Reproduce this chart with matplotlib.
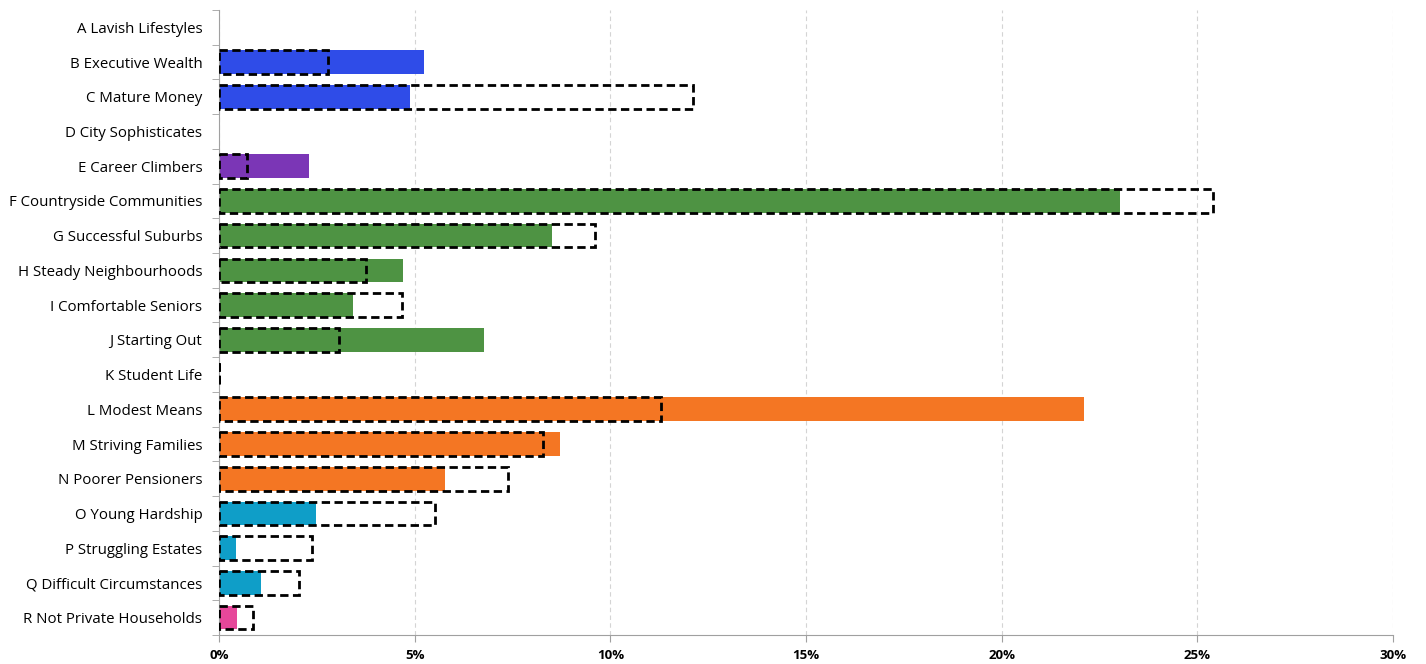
import matplotlib.pyplot as plt
from matplotlib.ticker import FuncFormatter

# segment names
segments = ['A Lavish Lifestyles', 'B Executive Wealth', 'C Mature Money', 'D City Sophisticates',
            'E Career Climbers', 'F Countryside Communities', 'G Successful Suburbs',
            'H Steady Neighbourhoods', 'I Comfortable Seniors', 'J Starting Out', 'K Student Life',
            'L Modest Means', 'M Striving Families', 'N Poorer Pensioners', 'O Young Hardship',
            'P Struggling Estates', 'Q Difficult Circumstances', 'R Not Private Households']

# area share (filled bars) and comparison share (dashed outline), in %
area_pct = [0, 5.24, 4.88, 0, 2.30, 23.03, 8.51, 4.70, 3.42, 6.77, 0,
            22.10, 8.71, 5.78, 2.48, 0.43, 1.07, 0.46]
compare_pct = [0, 2.79, 12.11, 0, 0.72, 25.40, 9.61, 3.76, 4.68, 3.07, 0.01,
               11.30, 8.28, 7.39, 5.52, 2.38, 2.04, 0.87]

blue, purple, green, orange, teal, pink = '#2f4ce8', '#7b36b6', '#4e9343', '#f47623', '#0f9ec8', '#e6479a'
colours = [blue, blue, blue, blue, purple, green, green, green, green, green, green,
           orange, orange, orange, teal, teal, teal, pink]

plt.rcParams['font.family'] = ['Open Sans', 'DejaVu Sans']

fig, ax = plt.subplots(figsize=(14.26, 6.64), dpi=100)
plt.subplots_adjust(left=0.1536, right=0.9769, top=0.985, bottom=0.0437)

pos = list(range(len(segments)))
ax.barh(pos, area_pct, height=0.68, color=colours, zorder=2)

# dashed outlines only where there is a comparison value
cmp_pos = [p for p, v in zip(pos, compare_pct) if v > 0]
cmp_val = [v for v in compare_pct if v > 0]
ax.barh(cmp_pos, cmp_val, height=0.68, fill=False, edgecolor='black',
        linestyle=(0, (3, 1.6)), linewidth=2, zorder=3)

ax.set_ylim(len(segments) - 0.5, -0.5)
ax.set_yticks(pos)
ax.set_yticklabels(segments, fontsize=10.8)
ax.set_xlim(0, 30)
ax.set_xticks([0, 5, 10, 15, 20, 25, 30])
ax.xaxis.set_major_formatter(FuncFormatter(lambda v, _: f'{v:.0f}%'))
for lbl in ax.get_xticklabels():
    lbl.set_fontweight('bold')
    lbl.set_fontsize(9.5)

# y ticks sit between categories
ax.set_yticks([p - 0.5 for p in pos] + [len(segments) - 0.5], minor=True)
ax.tick_params(axis='y', which='major', length=0, pad=12)
ax.tick_params(axis='y', which='minor', length=5, color='#a0a0a0')
ax.tick_params(axis='x', length=5, color='#a0a0a0', pad=5)

ax.grid(True, axis='x', linestyle=(0, (4, 3)), color='#d4d4d4', linewidth=0.8, zorder=0)
ax.set_axisbelow(True)
for s in ['top', 'right']:
    ax.spines[s].set_visible(False)
for s in ['left', 'bottom']:
    ax.spines[s].set_color('#a0a0a0')

plt.savefig('out.png', dpi=100)
